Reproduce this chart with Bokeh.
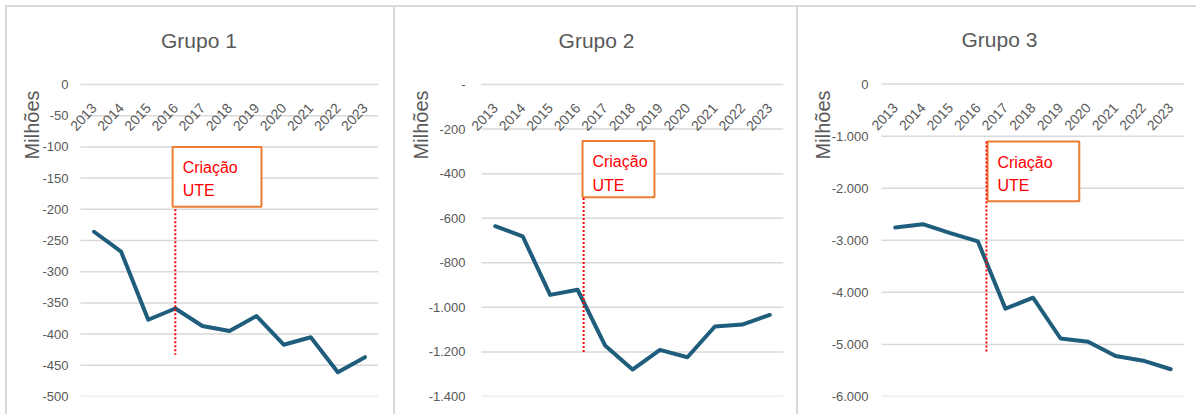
import math
from bokeh.plotting import figure
from bokeh.layouts import row
from bokeh.models import FixedTicker, Range1d, Title
from bokeh.embed import file_html
from bokeh.resources import INLINE
from bokeh.core.properties import value

# ---------------- data ----------------
years = [2013, 2014, 2015, 2016, 2017, 2018, 2019, 2020, 2021, 2022, 2023]
titles = ["Grupo 1", "Grupo 2", "Grupo 3"]

grupo1 = [-236, -268, -377, -359, -387, -395, -371, -417, -405, -461, -437]
grupo2 = [-636, -681, -944, -921, -1171, -1279, -1191, -1224, -1086, -1077, -1034]
grupo3 = [-2755, -2691, -2863, -3022, -4313, -4103, -4886, -4949, -5223, -5312, -5477]

y_ticks_1 = [0, -50, -100, -150, -200, -250, -300, -350, -400, -450, -500]
y_labels_1 = ["0", "-50", "-100", "-150", "-200", "-250", "-300", "-350", "-400", "-450", "-500"]
y_ticks_2 = [0, -200, -400, -600, -800, -1000, -1200, -1400]
y_labels_2 = ["-", "-200", "-400", "-600", "-800", "-1.000", "-1.200", "-1.400"]
y_ticks_3 = [0, -1000, -2000, -3000, -4000, -5000, -6000]
y_labels_3 = ["0", "-1.000", "-2.000", "-3.000", "-4.000", "-5.000", "-6.000"]

unit_label = "Milhões"
event_label = "Criação\nUTE"

# ---------------- styling / layout ----------------
FONT = "Liberation Sans"
GRAY = "#595959"
GRID = "#d9d9d9"
BORDER = "#d9d9d9"
LINE = "#1f5d7c"
RED = "#ff0000"
ORANGE = "#ed7d31"
EXT = 12        # px the frame extends left of the first category slot
GRID_TOP = 77   # px from the canvas top down to the zero gridline
TITLE_PX = 44.5 # px the title baseline sits above the zero gridline
H = 409

panels = [
    dict(title=titles[0], vals=grupo1, ticks=y_ticks_1, labels=y_labels_1, ymin=-500,
         width=388, left=61, right=17, bottom=20, slot=298, ystand=0, ustand=-7,
         title_x=2016.87,
         vline=(2016.0, -200, -433), box=(2015.9, 2019.18, -100, -196), txt=(2016.27, -119)),
    dict(title=titles[1], vals=grupo2, ticks=y_ticks_2, labels=y_labels_2, ymin=-1400,
         width=403, left=74, right=15, bottom=20, slot=302, ystand=4, ustand=-12,
         title_x=2016.69,
         vline=(2016.22, -509, -1209), box=(2016.18, 2018.8, -254, -506), txt=(2016.54, -309)),
    dict(title=titles[2], vals=grupo3, ticks=y_ticks_3, labels=y_labels_3, ymin=-6000,
         width=400, left=71, right=14, bottom=18, slot=303, ystand=1, ustand=-11,
         title_x=2016.78,
         vline=(2016.31, -1100, -5172), box=(2016.35, 2019.68, -1102, -2249), txt=(2016.71, -1337)),
]

figs = []
for cfg in panels:
    ppy = cfg["slot"] / 11.0
    x0 = 2012.5 - EXT / ppy
    grid_px = H - GRID_TOP - cfg["bottom"]          # pixel height of the 0..ymin span
    upp = -cfg["ymin"] / grid_px                      # data units per pixel
    ytop = GRID_TOP * upp
    p = figure(width=cfg["width"], height=H, output_backend="svg", toolbar_location=None,
               x_range=Range1d(x0, 2023.5), y_range=Range1d(cfg["ymin"], ytop),
               min_border_left=cfg["left"], min_border_right=cfg["right"],
               min_border_top=0, min_border_bottom=cfg["bottom"],
               outline_line_color=None, background_fill_color="white",
               border_fill_color="white",
               styles={"border-top": f"2px solid {BORDER}", "border-left": f"2px solid {BORDER}"})

    # chart title
    p.text(x=[cfg["title_x"]], y=[TITLE_PX * upp], text=[cfg["title"]],
           text_color=GRAY, text_font=value(FONT), text_font_size="21px",
           text_align="center", text_baseline="alphabetic")

    # x axis drawn at y = 0 with rotated labels below it
    xt = FixedTicker(ticks=years)
    p.xaxis.ticker = xt
    p.xaxis.major_label_overrides = {y: str(y) for y in years}
    p.xaxis.fixed_location = 0
    p.xaxis.axis_line_color = None
    p.xaxis.major_tick_line_color = None
    p.xaxis.minor_tick_line_color = None
    p.xaxis.major_tick_in = 0
    p.xaxis.major_tick_out = 0
    p.xaxis.major_label_orientation = 0.82
    p.xaxis.major_label_standoff = 21
    p.xaxis.major_label_text_font = FONT
    p.xaxis.major_label_text_font_size = "14px"
    p.xaxis.major_label_text_color = GRAY
    p.xgrid.visible = False

    yt = FixedTicker(ticks=cfg["ticks"])
    p.yaxis.ticker = yt
    p.yaxis.major_label_overrides = {t: l for t, l in zip(cfg["ticks"], cfg["labels"])}
    p.yaxis.axis_line_color = None
    p.yaxis.major_tick_line_color = None
    p.yaxis.minor_tick_line_color = None
    p.yaxis.major_tick_in = 0
    p.yaxis.major_tick_out = 0
    p.yaxis.major_label_standoff = cfg["ystand"]
    p.yaxis.major_label_text_font = FONT
    p.yaxis.major_label_text_font_size = "13px"
    p.yaxis.major_label_text_color = GRAY
    p.ygrid.visible = False

    # horizontal gridlines spanning the category slots only
    n = len(cfg["ticks"])
    p.segment(x0=[2012.5] * n, x1=[2023.5] * n, y0=cfg["ticks"], y1=cfg["ticks"],
              line_color=GRID, line_width=1.5)

    # data line
    p.line(years, cfg["vals"], line_color=LINE, line_width=4, line_join="round", line_cap="round")

    # annotation box + dotted marker line
    bl, br, bt, bb = cfg["box"]
    p.quad(left=[bl], right=[br], top=[bt], bottom=[bb], fill_color="white",
           line_color=ORANGE, line_width=2)
    vx, vy0, vy1 = cfg["vline"]
    p.segment(x0=[vx], y0=[vy0], x1=[vx], y1=[vy1], line_color=RED, line_width=2,
              line_dash="2 2")
    tx, ty = cfg["txt"]
    p.text(x=[tx], y=[ty], text=[event_label], text_color=RED,
           text_font=value(FONT), text_font_size="16px",
           text_align="left", text_baseline="top", text_line_height=1.38)

    # unit label ("Milhões") near the top end of the value axis
    p.add_layout(Title(text=unit_label, align="right", offset=GRID_TOP + 6,
                       standoff=cfg["ustand"],
                       text_font=FONT, text_font_size="20px", text_font_style="normal",
                       text_color=GRAY), "left")
    figs.append(p)

layout = row(*figs, spacing=0, styles={"margin-left": "5px", "margin-top": "5px"})
open("out.html", "w").write(file_html(layout, INLINE))
